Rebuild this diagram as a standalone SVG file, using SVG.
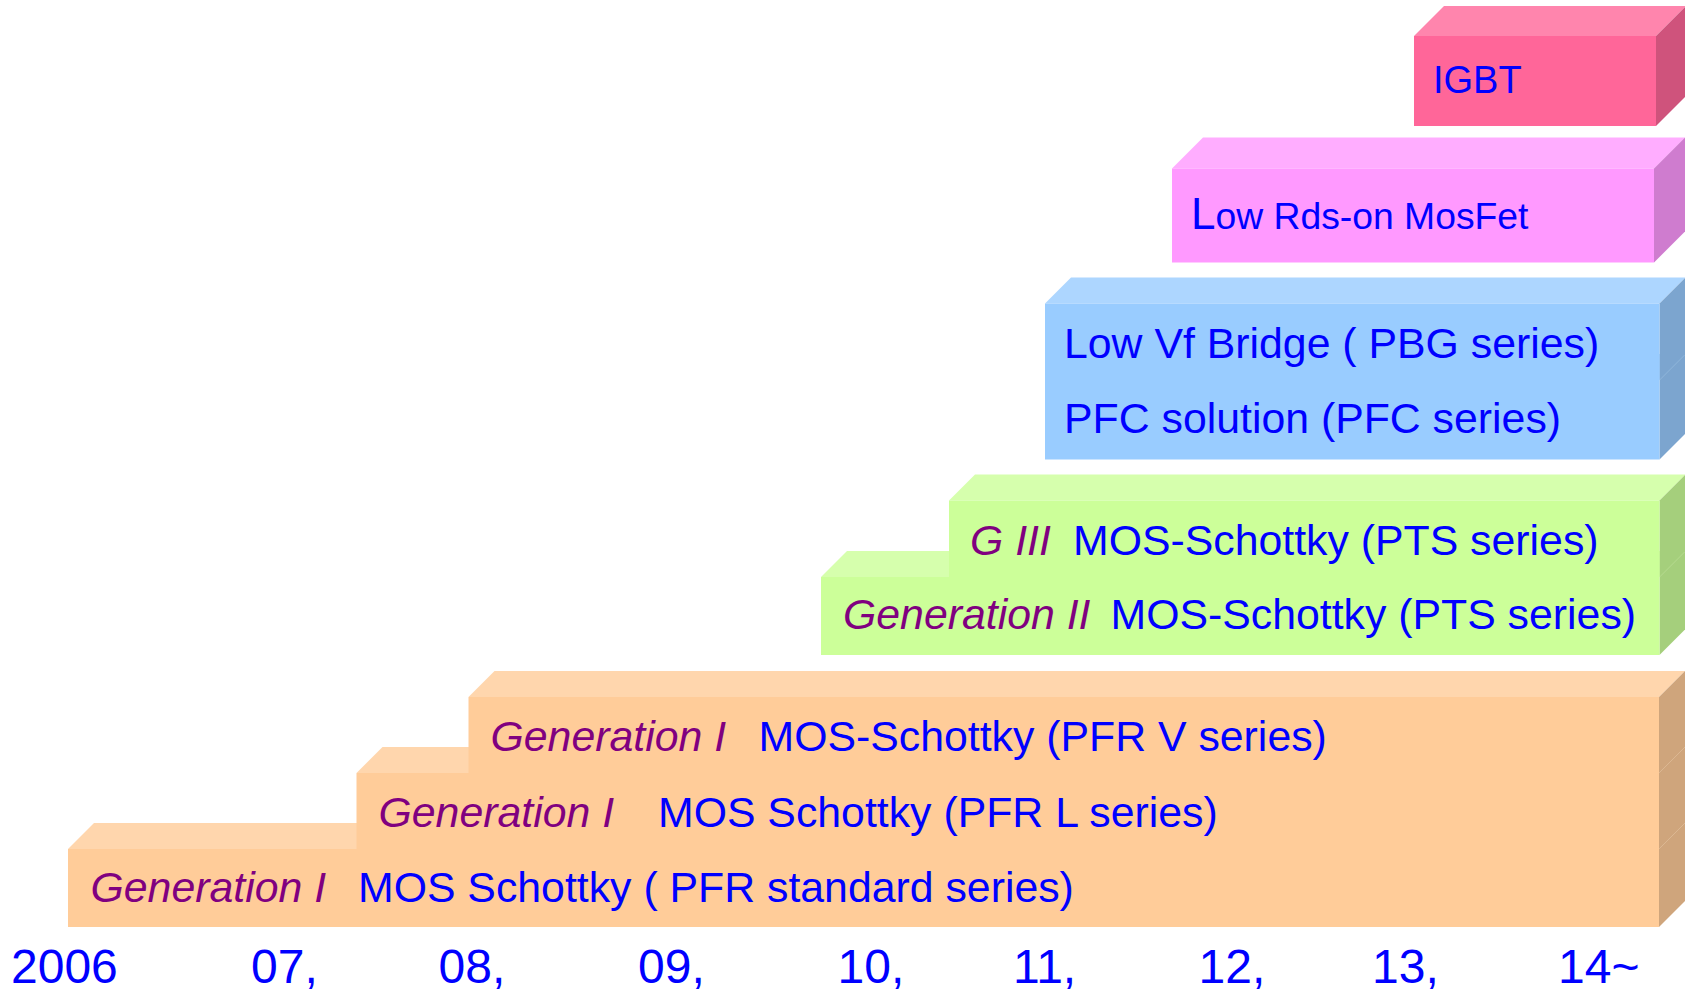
<svg xmlns="http://www.w3.org/2000/svg" width="1685" height="991" viewBox="0 0 1685 991">
<style>
text{font-family:"Liberation Sans",Arial,sans-serif;}
.t{font-size:42.8px;fill:#0000FF;}
.g{font-style:italic;fill:#800080;}
.y{font-size:48px;fill:#0000FF;}
.of{fill:#FFCC99}.ot{fill:#FFD6AD}.os{fill:#CFA57C}
.gf{fill:#CCFF99}.gt{fill:#D6FFAD}.gs{fill:#A5CF7C}
.bf{fill:#99CCFF}.bt{fill:#ADD6FF}.bs{fill:#7CA5CF}
.mf{fill:#FF99FF}.mt{fill:#FFADFF}.ms{fill:#CF7CCF}
.pf{fill:#FF6699}.pt{fill:#FF85AD}.ps{fill:#CF537C}
</style>
<rect width="1685" height="991" fill="#FFFFFF"/>

<g id="gen1-standard">
<polygon class="ot" points="68,849 94,823 1685,823 1659,849"/>
<polygon class="os" points="1659,849 1685,823 1685,901 1659,927"/>
<rect class="of" x="68" y="849" width="1591" height="78"/>
<text class="t" x="90.5" y="902"><tspan class="g">Generation I</tspan><tspan x="358">MOS Schottky ( PFR standard series)</tspan></text>
</g>

<g id="gen1-pfr-l">
<polygon class="ot" points="356.5,773 382.5,747 1685,747 1659,773"/>
<polygon class="os" points="1659,773 1685,747 1685,823 1659,849"/>
<rect class="of" x="356.5" y="773" width="1302.5" height="76"/>
<text class="t" x="378.5" y="826.5"><tspan class="g">Generation I</tspan><tspan x="658">MOS Schottky (PFR L series)</tspan></text>
</g>

<g id="gen1-pfr-v">
<polygon class="ot" points="468.5,697 494.5,671 1685,671 1659,697"/>
<polygon class="os" points="1659,697 1685,671 1685,747 1659,773"/>
<rect class="of" x="468.5" y="697" width="1190.5" height="76"/>
<text class="t" x="490.5" y="751"><tspan class="g">Generation I</tspan><tspan x="758.5">MOS-Schottky (PFR V series)</tspan></text>
</g>

<g id="gen2-pts">
<polygon class="gt" points="821,577 847,551 1685.5,551 1659.5,577"/>
<polygon class="gs" points="1659.5,577 1685.5,551 1685.5,629 1659.5,655"/>
<rect class="gf" x="821" y="577" width="838.5" height="78"/>
<text class="t" x="843" y="629"><tspan class="g">Generation II</tspan><tspan x="1110.5">MOS-Schottky (PTS series)</tspan></text>
</g>

<g id="gen3-pts">
<polygon class="gt" points="949,500.5 975,474.5 1685.5,474.5 1659.5,500.5"/>
<polygon class="gs" points="1659.5,500.5 1685.5,474.5 1685.5,551 1659.5,577"/>
<rect class="gf" x="949" y="500.5" width="710.5" height="76.5"/>
<text class="t" x="970" y="554.5"><tspan class="g">G III</tspan><tspan x="1073">MOS-Schottky (PTS series)</tspan></text>
</g>

<g id="pfc">
<polygon class="bt" points="1045,380 1071,354 1685.5,354 1659.5,380"/>
<polygon class="bs" points="1659.5,380 1685.5,354 1685.5,433.5 1659.5,459.5"/>
<rect class="bf" x="1045" y="380" width="614.5" height="79.5"/>
<text class="t" x="1064" y="433">PFC solution (PFC series)</text>
</g>

<g id="pbg">
<polygon class="bt" points="1045,303.5 1071,277.5 1685.5,277.5 1659.5,303.5"/>
<polygon class="bs" points="1659.5,303.5 1685.5,277.5 1685.5,354 1659.5,380"/>
<rect class="bf" x="1045" y="303.5" width="614.5" height="76.5"/>
<text class="t" x="1064" y="358">Low Vf Bridge ( PBG series)</text>
</g>

<g id="mosfet">
<polygon class="mt" points="1172,168.5 1203,137.5 1685,137.5 1654,168.5"/>
<polygon class="ms" points="1654,168.5 1685,137.5 1685,231.5 1654,262.5"/>
<rect class="mf" x="1172" y="168.5" width="482" height="94"/>
<text x="1191" y="229" style="font-size:37.3px;fill:#0000FF"><tspan style="font-size:44px">L</tspan>ow Rds-on MosFet</text>
</g>

<g id="igbt">
<polygon class="pt" points="1414,36 1444,6 1686,6 1656,36"/>
<polygon class="ps" points="1656,36 1686,6 1686,96 1656,126"/>
<rect class="pf" x="1414" y="36" width="242" height="90"/>
<text x="1433" y="93.3" style="font-size:38px;fill:#0000FF">IGBT</text>
</g>

<g id="years">
<text class="y" x="11" y="983">2006</text>
<text class="y" x="251" y="983">07,</text>
<text class="y" x="438.5" y="983">08,</text>
<text class="y" x="638" y="983">09,</text>
<text class="y" x="837.5" y="983">10,</text>
<text class="y" x="1013" y="983">11,</text>
<text class="y" x="1198.5" y="983">12,</text>
<text class="y" x="1372" y="983">13,</text>
<text class="y" x="1558" y="983">14~</text>
</g>
</svg>
